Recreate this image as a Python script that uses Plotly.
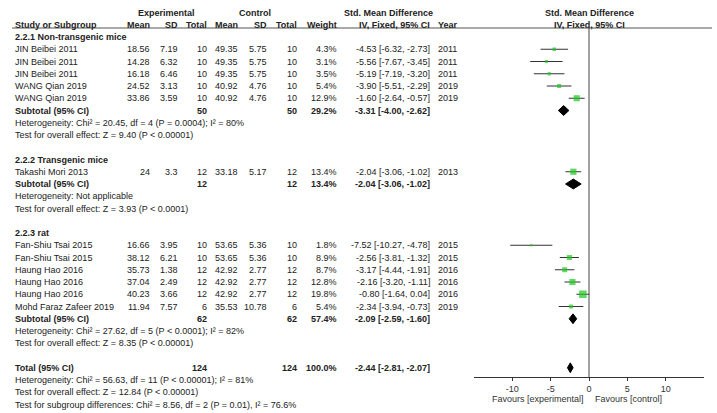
import plotly.graph_objects as go

# ---------------- data ----------------
group_names = ["2.2.1 Non-transgenic mice", "2.2.2 Transgenic mice", "2.2.3 rat"]
study = ["JIN Beibei 2011", "JIN Beibei 2011", "JIN Beibei 2011", "WANG Qian 2019", "WANG Qian 2019",
         "Takashi Mori 2013",
         "Fan-Shiu Tsai 2015", "Fan-Shiu Tsai 2015", "Haung Hao 2016", "Haung Hao 2016", "Haung Hao 2016",
         "Mohd Faraz Zafeer 2019"]
group_of = [0, 0, 0, 0, 0, 1, 2, 2, 2, 2, 2, 2]
exp_mean = [18.56, 14.28, 16.18, 24.52, 33.86, 24, 16.66, 38.12, 35.73, 37.04, 40.23, 11.94]
exp_sd = [7.19, 6.32, 6.46, 3.13, 3.59, 3.3, 3.95, 6.21, 1.38, 2.49, 3.66, 7.57]
exp_n = [10, 10, 10, 10, 10, 12, 10, 10, 12, 12, 12, 6]
ctl_mean = [49.35, 49.35, 49.35, 40.92, 40.92, 33.18, 53.65, 53.65, 42.92, 42.92, 42.92, 35.53]
ctl_sd = [5.75, 5.75, 5.75, 4.76, 4.76, 5.17, 5.36, 5.36, 2.77, 2.77, 2.77, 10.78]
ctl_n = [10, 10, 10, 10, 10, 12, 10, 10, 12, 12, 12, 6]
weight = [4.3, 3.1, 3.5, 5.4, 12.9, 13.4, 1.8, 8.9, 8.7, 12.8, 19.8, 5.4]
smd = [-4.53, -5.56, -5.19, -3.90, -1.60, -2.04, -7.52, -2.56, -3.17, -2.16, -0.80, -2.34]
ci_lo = [-6.32, -7.67, -7.19, -5.51, -2.64, -3.06, -10.27, -3.81, -4.44, -3.20, -1.64, -3.94]
ci_hi = [-2.73, -3.45, -3.20, -2.29, -0.57, -1.02, -4.78, -1.32, -1.91, -1.11, 0.04, -0.73]
year = [2011, 2011, 2011, 2019, 2019, 2013, 2015, 2015, 2016, 2016, 2016, 2019]

sub_exp_n = [50, 12, 62]
sub_ctl_n = [50, 12, 62]
sub_weight = [29.2, 13.4, 57.4]
sub_smd = [-3.31, -2.04, -2.09]
sub_lo = [-4.00, -3.06, -2.59]
sub_hi = [-2.62, -1.02, -1.60]
sub_het = ["Heterogeneity: Chi² = 20.45, df = 4 (P = 0.0004); I² = 80%",
           "Heterogeneity: Not applicable",
           "Heterogeneity: Chi² = 27.62, df = 5 (P < 0.0001); I² = 82%"]
sub_test = ["Test for overall effect: Z = 9.40 (P < 0.00001)",
            "Test for overall effect: Z = 3.93 (P < 0.0001)",
            "Test for overall effect: Z = 8.35 (P < 0.00001)"]

total_exp_n = 124
total_ctl_n = 124
total_weight = 100.0
total_smd = -2.44
total_lo = -2.81
total_hi = -2.07
total_het = "Heterogeneity: Chi² = 56.63, df = 11 (P < 0.00001); I² = 81%"
total_test = "Test for overall effect: Z = 12.84 (P < 0.00001)"
subgroup_test = "Test for subgroup differences: Chi² = 8.56, df = 2 (P = 0.01), I² = 76.6%"

x_ticks = [-10, -5, 0, 5, 10]
fav_left = "Favours [experimental]"
fav_right = "Favours [control]"

# ---------------- layout constants ----------------
W, H = 717, 413
ROW0, ROWH = 12.5, 12.25
AXIS_PX = 377
FONT = "Arial, Liberation Sans, sans-serif"
TXT = "#222222"
FS = 9

fig = go.Figure()
ann = []

def add(text, xpx, row, anchor="left", bold=False, size=FS):
    ann.append(dict(text=("<b>%s</b>" % text) if bold else text,
                    x=xpx / W, xref="paper", y=row, yref="y",
                    xanchor=anchor, yanchor="middle", showarrow=False,
                    font=dict(family=FONT, size=size, color=TXT)))

def fmt(v):
    return f"{v:g}"

def ci_text(e, l, h):
    return f"{e:.2f} [{l:.2f}, {h:.2f}]"

# column x positions (px)
X_NAME = 13
X_EM, X_ESD, X_EN = 152, 180, 209
X_CM, X_CSD, X_CN = 240, 269, 299
X_W = 339
X_CI = 432
X_YR = 436

# headers
add("Experimental", 166, 0, "center", True)
add("Control", 255, 0, "center", True)
add("Std. Mean Difference", 388, 0, "center", True)
add("Std. Mean Difference", 589, 0, "center", True)
add("Study or Subgroup", X_NAME, 1, "left", True)
for txt, xp in [("Mean", X_EM), ("SD", X_ESD), ("Total", X_EN), ("Mean", X_CM), ("SD", X_CSD),
                ("Total", X_CN), ("Weight", X_W), ("IV, Fixed, 95% CI", X_CI)]:
    add(txt, xp, 1, "right", True)
add("Year", X_YR, 1, "left", True)
add("IV, Fixed, 95% CI", 589, 1, "center", True)

row = 2
study_rows = []
diamonds = []
for g, gname in enumerate(group_names):
    add(gname, X_NAME, row, "left", True)
    row += 1
    for i in range(len(study)):
        if group_of[i] != g:
            continue
        add(study[i], X_NAME, row)
        add(fmt(exp_mean[i]), X_EM, row, "right")
        add(fmt(exp_sd[i]), X_ESD, row, "right")
        add(fmt(exp_n[i]), X_EN, row, "right")
        add(fmt(ctl_mean[i]), X_CM, row, "right")
        add(fmt(ctl_sd[i]), X_CSD, row, "right")
        add(fmt(ctl_n[i]), X_CN, row, "right")
        add(f"{weight[i]:.1f}%", X_W, row, "right")
        add(ci_text(smd[i], ci_lo[i], ci_hi[i]), X_CI, row, "right")
        add(str(year[i]), X_YR, row, "left")
        study_rows.append((i, row))
        row += 1
    add("Subtotal (95% CI)", X_NAME, row, "left", True)
    add(fmt(sub_exp_n[g]), X_EN, row, "right", True)
    add(fmt(sub_ctl_n[g]), X_CN, row, "right", True)
    add(f"{sub_weight[g]:.1f}%", X_W, row, "right", True)
    add(ci_text(sub_smd[g], sub_lo[g], sub_hi[g]), X_CI, row, "right", True)
    diamonds.append((sub_smd[g], sub_lo[g], sub_hi[g], row))
    row += 1
    add(sub_het[g], X_NAME, row)
    row += 1
    add(sub_test[g], X_NAME, row)
    row += 2

add("Total (95% CI)", X_NAME, row, "left", True)
add(fmt(total_exp_n), X_EN, row, "right", True)
add(fmt(total_ctl_n), X_CN, row, "right", True)
add(f"{total_weight:.1f}%", X_W, row, "right", True)
add(ci_text(total_smd, total_lo, total_hi), X_CI, row, "right", True)
diamonds.append((total_smd, total_lo, total_hi, row))
row += 1
add(total_het, X_NAME, row)
row += 1
add(total_test, X_NAME, row)
row += 1
add(subgroup_test, X_NAME, row)

# Favours labels
for txt, xp, anc in [(fav_left, 586, "right"), (fav_right, 593, "left")]:
    ann.append(dict(text=txt, x=xp / W, xref="paper", y=1 - 398.5 / H, yref="paper",
                    xanchor=anc, yanchor="middle", showarrow=False,
                    font=dict(family=FONT, size=FS, color="#333333")))

# CI lines
lx, ly = [], []
for i, r in study_rows:
    lx += [ci_lo[i], ci_hi[i], None]
    ly += [r, r, None]
fig.add_trace(go.Scatter(x=lx, y=ly, mode="lines", line=dict(color="#333333", width=1),
                         hoverinfo="skip", showlegend=False))
# squares (area proportional to weight)
fig.add_trace(go.Scatter(x=[smd[i] for i, r in study_rows], y=[r for i, r in study_rows],
                         mode="markers",
                         marker=dict(symbol="square", color="#1ec81e",
                                     size=[1.7 * weight[i] ** 0.5 for i, r in study_rows],
                                     line=dict(width=0)),
                         showlegend=False))
# diamonds
for e, l, h, r in diamonds:
    fig.add_trace(go.Scatter(x=[l, e, h, e, l], y=[r, r - 0.4, r, r + 0.4, r], mode="lines",
                             fill="toself", fillcolor="black", line=dict(color="black", width=1),
                             showlegend=False, hoverinfo="skip"))

shapes = [
    dict(type="line", xref="paper", yref="paper", x0=12 / W, x1=712 / W,
         y0=1 - 28 / H, y1=1 - 28 / H, line=dict(color="#555555", width=1.2)),
    dict(type="line", xref="x", yref="paper", x0=0, x1=0, y0=1 - AXIS_PX / H, y1=1 - 28 / H,
         line=dict(color="#444444", width=1)),
]

y_top = -ROW0 / ROWH
y_bot = (H - ROW0) / ROWH
fig.update_layout(
    width=W, height=H, margin=dict(l=0, r=0, t=0, b=0),
    paper_bgcolor="white", plot_bgcolor="rgba(0,0,0,0)",
    annotations=ann, shapes=shapes,
    xaxis=dict(domain=[474 / W, 704 / W], range=[-15, 15], anchor="free", position=1 - AXIS_PX / H,
               showgrid=False, zeroline=False, showline=True, linecolor="#333333", linewidth=1,
               ticks="outside", ticklen=3, tickcolor="#333333", tickvals=x_ticks,
               ticktext=[str(t) for t in x_ticks],
               tickfont=dict(family=FONT, size=FS, color="#333333")),
    yaxis=dict(domain=[0, 1], range=[y_bot, y_top], visible=False, showgrid=False, zeroline=False),
)

fig.write_html("out.html", config={"displayModeBar": False},
               post_script="document.body.style.margin='0';document.body.style.overflow='hidden';")
